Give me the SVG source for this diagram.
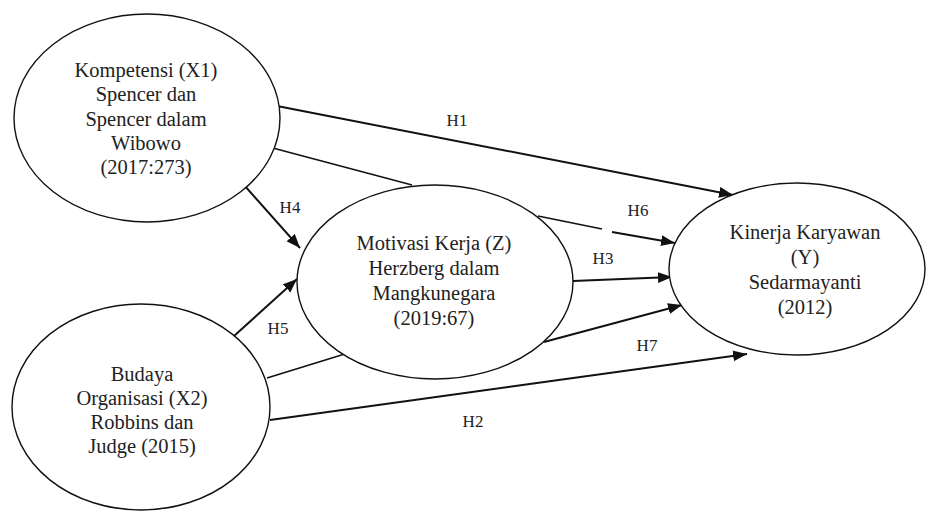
<svg xmlns="http://www.w3.org/2000/svg" width="928" height="512" viewBox="0 0 928 512">
<style>
.node{fill:#fff;stroke:#111;stroke-width:1.4}
.t{font-family:"Liberation Serif","Times New Roman",serif;font-size:20.5px;fill:#222;text-anchor:middle}
.lbl{font-family:"Liberation Serif","Times New Roman",serif;font-size:17px;fill:#222;text-anchor:middle}
.arr{stroke:#111;stroke-width:1.9;fill:none;marker-end:url(#ah)}
.ln{stroke:#111;stroke-width:1.5;fill:none}
</style>
<defs>
<marker id="ah" markerUnits="userSpaceOnUse" markerWidth="15" markerHeight="12" refX="14" refY="5.5" orient="auto">
<path d="M0,0 L14,5.5 L0,11 z" fill="#111"/>
</marker>
</defs>
<rect width="928" height="512" fill="#fff"/>
<g id="connectors">
<line class="arr" x1="277" y1="106" x2="733" y2="195"/>
<line class="ln" x1="269" y1="147" x2="412" y2="185"/>
<line class="ln" x1="538" y1="216" x2="602" y2="229"/>
<line class="arr" x1="612" y1="232" x2="675" y2="243"/>
<line class="arr" x1="244" y1="185" x2="300" y2="248"/>
<line class="arr" x1="234" y1="336" x2="297" y2="279"/>
<line class="arr" x1="573" y1="281" x2="672" y2="277"/>
<line class="ln" x1="267" y1="378" x2="348" y2="353"/>
<line class="arr" x1="544" y1="342" x2="682" y2="305"/>
<line class="arr" x1="270" y1="420" x2="747" y2="354"/>
<text class="lbl" x="457" y="126">H1</text>
<text class="lbl" x="290" y="213">H4</text>
<text class="lbl" x="638" y="216">H6</text>
<text class="lbl" x="603" y="264">H3</text>
<text class="lbl" x="278" y="334">H5</text>
<text class="lbl" x="647" y="351">H7</text>
<text class="lbl" x="473" y="427">H2</text>
</g>
<g id="X1">
<ellipse class="node" cx="147" cy="118" rx="133" ry="104"/>
<text class="t" x="146" y="77">Kompetensi (X1)</text>
<text class="t" x="146" y="101">Spencer dan</text>
<text class="t" x="146" y="126">Spencer dalam</text>
<text class="t" x="146" y="150">Wibowo</text>
<text class="t" x="146" y="174">(2017:273)</text>
</g>
<g id="X2">
<ellipse class="node" cx="141" cy="407" rx="129" ry="103"/>
<text class="t" x="142" y="381">Budaya</text>
<text class="t" x="142" y="405">Organisasi (X2)</text>
<text class="t" x="142" y="429">Robbins dan</text>
<text class="t" x="142" y="453">Judge (2015)</text>
</g>
<g id="Z">
<ellipse class="node" cx="435" cy="282" rx="138" ry="97"/>
<text class="t" x="434" y="250">Motivasi Kerja (Z)</text>
<text class="t" x="434" y="275">Herzberg dalam</text>
<text class="t" x="434" y="300">Mangkunegara</text>
<text class="t" x="434" y="325">(2019:67)</text>
</g>
<g id="Y">
<ellipse class="node" cx="797" cy="269" rx="128" ry="86"/>
<text class="t" x="805" y="239">Kinerja Karyawan</text>
<text class="t" x="805" y="264">(Y)</text>
<text class="t" x="805" y="289">Sedarmayanti</text>
<text class="t" x="805" y="314">(2012)</text>
</g>
</svg>
